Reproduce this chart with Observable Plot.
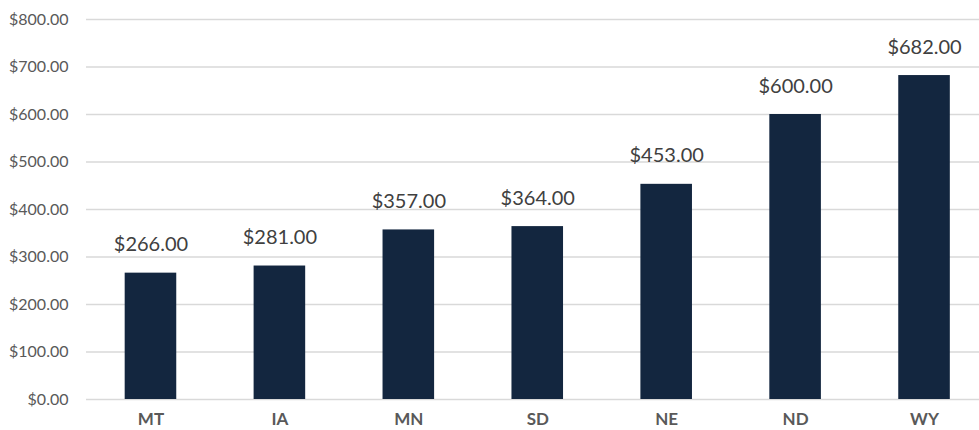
<!DOCTYPE html>
<html>
<head>
<meta charset="utf-8">
<script src="https://cdn.jsdelivr.net/npm/d3@7"></script>
<script src="https://cdn.jsdelivr.net/npm/@observablehq/plot@0.6"></script>
<style>
  html, body { margin: 0; padding: 0; background: #fff; }
  #chart svg { display: block; }
</style>
</head>
<body>
<div id="chart"></div>
<script>
const states = ["MT", "IA", "MN", "SD", "NE", "ND", "WY"];
const values = [266, 281, 357, 364, 453, 600, 682];
const yTicks = [0, 100, 200, 300, 400, 500, 600, 700, 800];

const data = states.map((s, i) => ({state: s, value: values[i]}));
const fmt = v => "$" + d3.format(",.2f")(v);

const chart = Plot.plot({
  width: 979,
  height: 430,
  marginLeft: 86,
  marginRight: 0,
  marginTop: 19,
  marginBottom: 31,
  style: {fontFamily: "Lato, sans-serif", background: "#fff"},
  x: {domain: states, range: [86, 988.5], round: false, paddingInner: 0.6, paddingOuter: 0.3, label: null},
  y: {domain: [0, 800], label: null},
  marks: [
    Plot.gridY(yTicks, {stroke: "#d9d9d9", strokeOpacity: 1, strokeWidth: 1.5}),
    Plot.axisY(yTicks, {tickSize: 0, tickPadding: 18, tickFormat: fmt, fontSize: 16, fill: "#595959", label: null}),
    Plot.axisX({tickSize: 0, tickPadding: 13, fontSize: 17, fontWeight: "bold", fill: "#595959", label: null}),
    Plot.barY(data, {x: "state", y: "value", fill: "#13263f"}),
    Plot.text(data, {x: "state", y: "value", text: d => fmt(d.value), lineAnchor: "bottom", dy: -22, fontSize: 20, fill: "#404040"})
  ]
});
document.getElementById("chart").appendChild(chart);
</script>
</body>
</html>
